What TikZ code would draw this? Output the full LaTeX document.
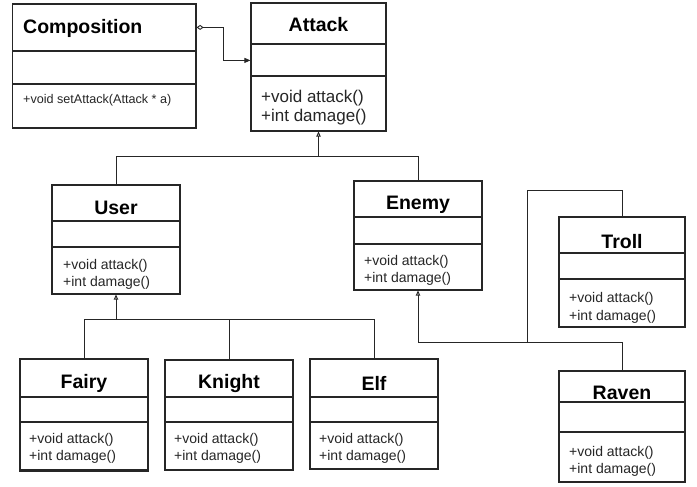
\documentclass[tikz,border=0pt]{standalone}
\usepackage{fontspec}
\setmainfont{Liberation Sans}
\usetikzlibrary{arrows.meta}
\definecolor{ink}{HTML}{262626}
\tikzset{
  clsbox/.style={draw=ink, line width=1.2pt, rectangle, inner sep=0pt},
  divider/.style={draw=ink, line width=1.1pt},
  titletext/.style={font=\fontsize{19.5}{23}\selectfont\bfseries, text=black, inner sep=0pt},
  methtext/.style={font=\fontsize{14}{17.5}\selectfont, text=ink, align=left, anchor=west, inner sep=0pt},
  conn/.style={draw=ink, line width=0.9pt},
  inherit/.style={conn, -{Triangle[open, length=5pt, width=4.5pt]}},
  aggr/.style={conn, {Diamond[open, length=7pt, width=5pt]}-{Triangle[length=6pt, width=5pt]}}
}
\newcommand{\umlcls}[9]{%
  % #1 name, #2 x1, #3 y1, #4 x2, #5 d1, #6 d2, #7 y2, #8 title, #9 title y
  \node[clsbox, minimum width={(#4-#2)*1pt}, minimum height={(#7-#3)*1pt}] (#1) at ({(#2+#4)/2},{(#3+#7)/2}) {};
  \draw[divider] (#2,#5) -- (#4,#5);
  \draw[divider] (#2,#6) -- (#4,#6);
  \node[titletext] (#1-title) at ({(#2+#4)/2},#9) {#8};
}
\begin{document}
\begin{tikzpicture}[x=1pt, y=-1pt]
\useasboundingbox (0,0) rectangle (697,487);
\fill[white] (0,0) rectangle (697,487);

% Composition (title left-aligned)
\node[clsbox, minimum width=183.3pt, minimum height=124pt] (comp) at (104.35,66) {};
\draw[divider] (12.7,51) -- (196,51);
\draw[divider] (12.7,84) -- (196,84);
\node[titletext, anchor=west] (comp-title) at (23,28) {Composition};
\node[methtext, font=\fontsize{12.6}{15}\selectfont] (comp-m) at (23,100) {+void setAttack(Attack * a)};

\umlcls{attack}{251}{3}{386}{44}{76}{131}{Attack}{25}
\node[methtext, font=\fontsize{17}{19.5}\selectfont] (attack-m) at (261,107.5) {+void attack()\\+int damage()};

\umlcls{user}{52}{185}{180}{221}{247}{294}{User}{208}
\node[methtext] (user-m) at (63,274.5) {+void attack()\\+int damage()};

\umlcls{enemy}{354}{181}{482}{217}{244}{290}{Enemy}{205}
\node[methtext] (enemy-m) at (364,270.5) {+void attack()\\+int damage()};

\umlcls{troll}{559}{217}{685}{253}{279}{327}{Troll}{242}
\node[methtext] (troll-m) at (569,308) {+void attack()\\+int damage()};

\umlcls{raven}{559}{371}{685}{402}{432}{482}{Raven}{393}
\node[methtext] (raven-m) at (569,461.5) {+void attack()\\+int damage()};

\umlcls{fairy}{20}{359}{148}{397}{422}{470}{Fairy}{383}
\node[methtext] (fairy-m) at (29,448.5) {+void attack()\\+int damage()};
\draw[ink, line width=2pt] (fairy.south west) -- (fairy.south east);

\umlcls{knight}{165}{360}{293}{397}{422}{470}{Knight}{383}
\node[methtext] (knight-m) at (174,448.5) {+void attack()\\+int damage()};

\umlcls{elf}{310}{359}{438}{397}{422}{469}{Elf}{383}
\node[methtext] (elf-m) at (319,448.5) {+void attack()\\+int damage()};

% Composition -> Attack
\draw[aggr] ([yshift=-24pt]comp.north east) -- ++(27,0) |- ([yshift=-58pt]attack.north west);

% User, Enemy -> Attack
\coordinate (j1) at (318.5,156);
\draw[conn] (user.north) |- (j1);
\draw[conn] (enemy.north) |- (j1);
\draw[inherit] (j1) -- (attack.south);

% Fairy, Knight, Elf -> User
\coordinate (j2) at (116,319);
\draw[conn] (fairy.north) |- (j2);
\draw[conn] (elf.north) |- (j2);
\draw[conn] (knight.north) -- (knight.north |- j2);
\draw[inherit] (j2) -- (user.south);

% Troll, Raven -> Enemy
\coordinate (j3) at (418,342);
\coordinate (j4) at (527,342);
\coordinate (j5) at (527,190);
\draw[conn] (raven.north) |- (j3);
\draw[conn] (j4) -- (j5) -| (troll.north);
\draw[inherit] (j3) -- (enemy.south);
\end{tikzpicture}
\end{document}
